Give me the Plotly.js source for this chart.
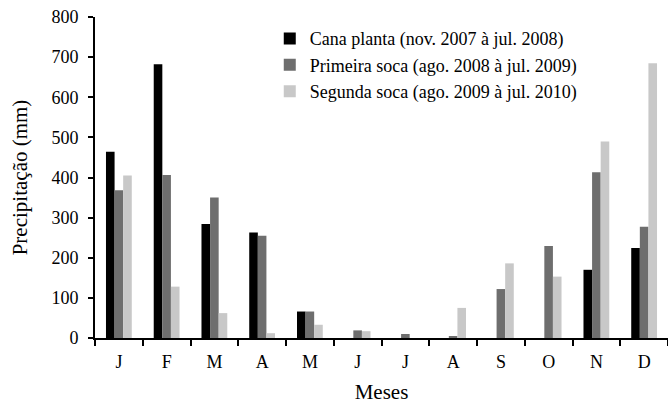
<!DOCTYPE html>
<html>
<head>
<meta charset="utf-8">
<script src="https://cdn.plot.ly/plotly-3.0.1.min.js"></script>
<style>html,body{margin:0;padding:0;background:#fff;}#chart{width:668px;height:404px;}</style>
</head>
<body>
<div id="chart"></div>
<script>
const months = ["J","F","M","A","M ","J ","J  ","A ","S","O","N","D"];
const monthLabels = ["J","F","M","A","M","J","J","A","S","O","N","D"];
const seriesNames = ["Cana planta (nov. 2007 à jul. 2008)","Primeira soca (ago. 2008 à jul. 2009)","Segunda soca (ago. 2009 à jul. 2010)"];
const canaPlanta = [464, 682, 284, 263, 66, 0, 0, 0, 0, 0, 170, 224];
const primeiraSoca = [368, 406, 350, 255, 66, 19, 10, 5, 122, 229, 413, 277];
const segundaSoca = [405, 128, 62, 12, 33, 17, 0, 75, 186, 153, 490, 685];
const colors = ["#000000", "#6e6e6e", "#c8c8c8"];

const font = "Liberation Serif";
const data = [canaPlanta, primeiraSoca, segundaSoca].map((v, i) => ({
  type: "bar",
  x: months,
  y: v,
  name: seriesNames[i],
  marker: {color: colors[i], line: {width: 0}},
  hoverinfo: "none"
}));

const layout = {
  width: 668, height: 404,
  margin: {l: 95, r: 0, t: 17, b: 66},
  paper_bgcolor: "#fff", plot_bgcolor: "#fff",
  font: {family: font, size: 18, color: "#000"},
  barmode: "group",
  bargap: 0.46,
  bargroupgap: 0,
  showlegend: true,
  legend: {x: 0.305, y: 0.99, xanchor: "left", yanchor: "top", bgcolor: "rgba(0,0,0,0)",
           font: {family: font, size: 18, color: "#000"}, tracegroupgap: 0, itemwidth: 30},
  xaxis: {
    type: "category",
    tickvals: months, ticktext: monthLabels,
    showline: true, linecolor: "#000", linewidth: 2,
    ticks: "outside", tickson: "boundaries", ticklen: 6, tickwidth: 2, tickcolor: "#000",
    ticklabelstandoff: 6,
    showgrid: false, zeroline: false,
    tickfont: {family: font, size: 18, color: "#000"},
    title: {text: "Meses", font: {family: font, size: 21, color: "#000"}, standoff: 17}
  },
  yaxis: {
    range: [0, 800], dtick: 100,
    showline: true, linecolor: "#000", linewidth: 2,
    ticks: "outside", ticklen: 5, tickwidth: 2, tickcolor: "#000",
    ticklabelstandoff: 6,
    showgrid: false, zeroline: false,
    tickfont: {family: font, size: 18, color: "#000"},
    title: {text: "Precipitação (mm)", font: {family: font, size: 21, color: "#000"}, standoff: 18}
  }
};

Plotly.newPlot("chart", data, layout, {displayModeBar: false, staticPlot: true});
</script>
</body>
</html>
